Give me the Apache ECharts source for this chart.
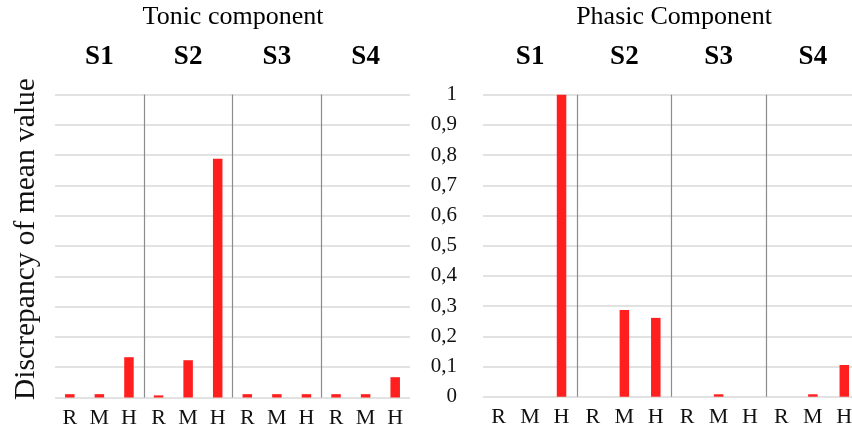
<!DOCTYPE html>
<html><head><meta charset="utf-8">
<script src="https://cdn.jsdelivr.net/npm/echarts@6/dist/echarts.min.js"></script>
<style>html,body{margin:0;padding:0;background:#fff}#c{width:852px;height:435px}</style>
</head><body><div id="c"></div>
<script>
const groups = ['S1', 'S2', 'S3', 'S4'];
const conditions = ['R', 'M', 'H'];
// values per category (S1 R, S1 M, S1 H, S2 R, ...)
const tonicValues = [0.011, 0.011, 0.133, 0.007, 0.123, 0.788, 0.011, 0.011, 0.011, 0.011, 0.011, 0.067];
const phasicValues = [0, 0, 1.0, 0, 0.287, 0.261, 0, 0.008, 0, 0, 0.008, 0.105];
const yTicks = [0, 0.1, 0.2, 0.3, 0.4, 0.5, 0.6, 0.7, 0.8, 0.9, 1];
const titles = ['Tonic component', 'Phasic Component'];
const yAxisName = 'Discrepancy of mean value';

const cats = [];
groups.forEach(g => conditions.forEach(c => cats.push(g + '-' + c)));

const serif = '"Liberation Serif", "Times New Roman", serif';
const grids = [
  { left: 55, top: 94.5, width: 355, height: 303, outerBoundsMode: 'none', containLabel: false },
  { left: 483, top: 94.7, width: 377, height: 302, outerBoundsMode: 'none', containLabel: false }
];

const chart = echarts.init(document.getElementById('c'), null, { renderer: 'canvas' });

const xAxes = [], yAxes = [], series = [];
[0, 1].forEach(i => {
  xAxes.push({
    type: 'category', gridIndex: i, data: cats, position: 'bottom',
    axisLine: { show: false }, axisTick: { show: false },
    axisLabel: { formatter: v => v.split('-')[1], fontFamily: serif, fontSize: 22, color: '#111', margin: 10, interval: 0 },
    splitLine: { show: false }
  });
  xAxes.push({
    type: 'category', gridIndex: i, data: groups, position: 'top',
    axisLine: { show: false }, axisTick: { show: false },
    axisLabel: { fontFamily: serif, fontSize: 27, fontWeight: 'bold', color: '#000', margin: 24 },
    splitLine: { show: true, showMinLine: false, showMaxLine: false, lineStyle: { color: '#8c8c8c', width: 1.2 } }
  });
  yAxes.push({
    type: 'value', gridIndex: i, min: 0, max: 1, interval: 0.1,
    axisLine: { show: false }, axisTick: { show: false },
    axisLabel: {
      show: i === 1, fontFamily: serif, fontSize: 21, color: '#111', margin: 26,
      formatter: v => (yTicks.indexOf(Math.round(v * 10) / 10) >= 0 ? String(Math.round(v * 10) / 10).replace('.', ',') : '')
    },
    splitLine: { show: true, lineStyle: { color: '#d9d9d9', width: 1.6 } },
    name: i === 0 ? yAxisName : '',
    nameLocation: 'middle', nameGap: 14, nameRotate: 90,
    nameTextStyle: { fontFamily: serif, fontSize: 29.5, color: '#111', padding: [0, 0, 0, 14] }
  });
  series.push({
    type: 'bar', xAxisIndex: i * 2, yAxisIndex: i,
    data: i === 0 ? tonicValues : phasicValues,
    barWidth: 9.5, itemStyle: { color: '#ff1f1f' }, silent: true
  });
});

chart.setOption({
  animation: false,
  backgroundColor: '#fff',
  title: [
    { text: titles[0], left: 228, top: -1, textAlign: 'center', textStyle: { fontFamily: serif, fontSize: 26, fontWeight: 'normal', color: '#000' } },
    { text: titles[1], left: 669, top: -1, textAlign: 'center', textStyle: { fontFamily: serif, fontSize: 26, fontWeight: 'normal', color: '#000' } }
  ],
  grid: grids,
  xAxis: xAxes,
  yAxis: yAxes,
  series: series
});
</script></body></html>
